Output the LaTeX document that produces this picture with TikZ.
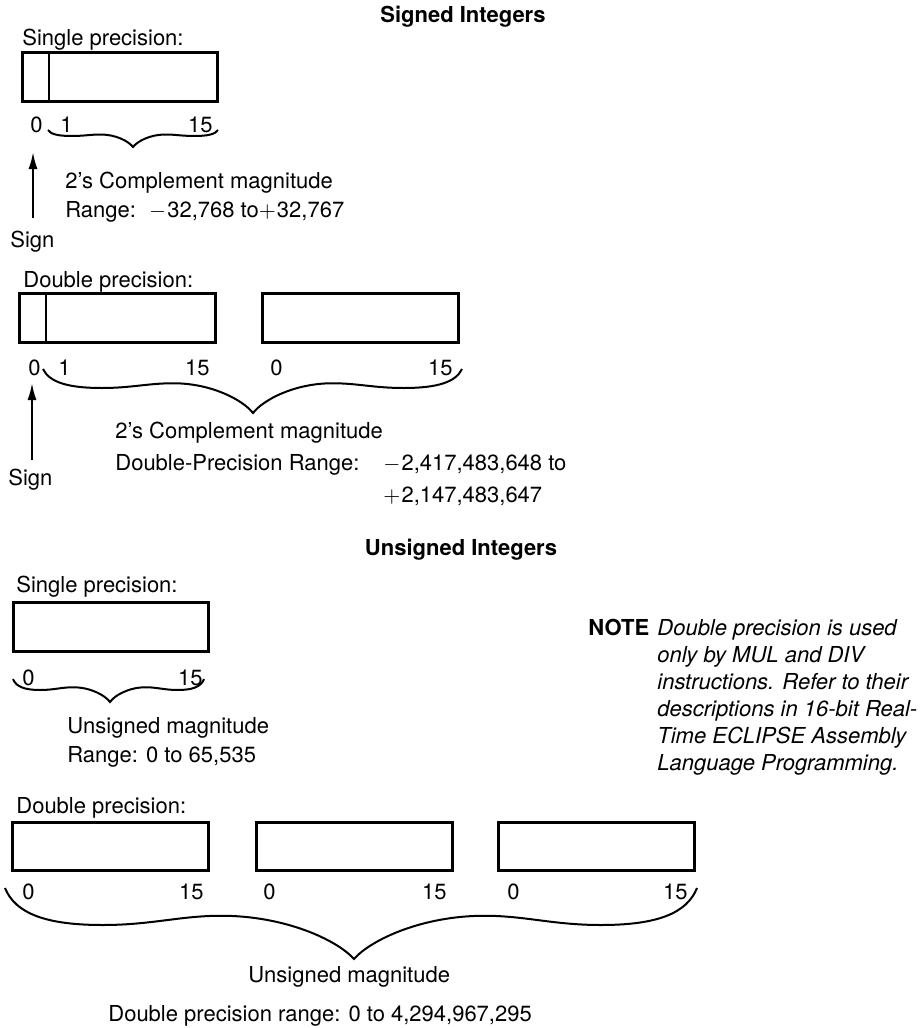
\documentclass[tikz,border=0pt]{standalone}
\usepackage{fontspec}
\setmainfont{TeX Gyre Heros}
\usetikzlibrary{arrows.meta}
\tikzset{
  txt/.style={inner sep=0pt, anchor=base west, font=\fontsize{11}{13.5}\selectfont},
  txtr/.style={txt, anchor=base east},
  ttl/.style={inner sep=0pt, anchor=base, font=\fontsize{11}{13.5}\selectfont\bfseries},
  regbox/.style={draw, rectangle, line width=1.5pt, inner sep=0pt, minimum height=24.5pt, minimum width=97.75pt},
  divider/.style={line width=0.8pt},
  bracestyle/.style={line width=1pt},
  sarrow/.style={line width=1pt, -{Latex[length=8.5pt,width=4.5pt]}},
}
\newcommand\mminus{\ensuremath{-}\kern0.05em}
\newcommand\mplus{\ensuremath{+}\kern0.05em}
% #1 x left, #2 x tip, #3 x right, #4 y ends, #5 y body, #6 y tip
\newcommand\ibrace[6]{%
  \pgfmathsetmacro\hl{#2-#1}%
  \pgfmathsetmacro\hr{#3-#2}%
  \pgfmathsetmacro\yc{#5-0.25*(#5-#4)}%
  \pgfmathsetmacro\yk{#4+0.7*(#5-#4)}%
  \pgfmathsetmacro\yq{#6-0.45*(#6-\yc)}%
  \draw[bracestyle] (#1,#4)
    .. controls ({#1+0.03*\hl},\yk) and ({#1+0.12*\hl},#5) .. ({#1+0.28*\hl},#5)
    .. controls ({#1+0.42*\hl},#5) and ({#1+0.5*\hl},\yc) .. ({#1+0.62*\hl},\yc)
    .. controls ({#1+0.8*\hl},\yc) and ({#2-0.05*\hl},\yq) .. (#2,#6)
    .. controls ({#2+0.05*\hr},\yq) and ({#3-0.8*\hr},\yc) .. ({#3-0.62*\hr},\yc)
    .. controls ({#3-0.5*\hr},\yc) and ({#3-0.42*\hr},#5) .. ({#3-0.28*\hr},#5)
    .. controls ({#3-0.12*\hr},#5) and ({#3-0.03*\hr},\yk) .. (#3,#4);
}
\begin{document}
\begin{tikzpicture}[x=0.5pt,y=-0.5pt]
\useasboundingbox (0,0) rectangle (921,1028);

% ---------- Signed integers ----------
\node[ttl] (tsigned) at (463,23) {Signed Integers};

% single precision
\node[txt] (ssp) at (22,45) {Single precision:};
\node[regbox] (s1) at (120,76.5) {};
\draw[divider] ([xshift=14pt]s1.north west) -- ([xshift=14pt]s1.south west);
\node[txt] (s1n0) at (30,132) {0};
\node[txt] (s1n1) at (60,132) {1};
\node[txtr] (s1n15) at (213,132) {15};
\ibrace{48}{133}{218}{130}{136}{147}
\coordinate (a1s) at (33,218);
\coordinate (a1e) at (33,152);
\draw[sarrow] (a1s) -- (a1e);
\node[txt] (s1c) at (65,188) {2’s Complement magnitude};
\node[txt] (s1r) at (65,217) {Range:\hspace{0.6em}\mminus 32,768 to\mplus 32,767};
\node[txt] (sign1) at (10,247) {Sign};

% double precision
\node[txt] (sdp) at (23,287) {Double precision:};
\node[regbox] (d1a) at (117.5,317.5) {};
\node[regbox] (d1b) at (360.5,317.5) {};
\draw[divider] ([xshift=14pt]d1a.north west) -- ([xshift=14pt]d1a.south west);
\node[txt] (d1n0) at (28,375) {0};
\node[txt] (d1n1) at (58,375) {1};
\node[txtr] (d1n15) at (210,375) {15};
\node[txt] (d1n0b) at (270,375) {0};
\node[txtr] (d1n15b) at (453,375) {15};
\ibrace{43}{253}{462}{369}{388}{413}
\coordinate (a2s) at (32,460);
\coordinate (a2e) at (32,383);
\draw[sarrow] (a2s) -- (a2e);
\node[txt] (d1c) at (115,438) {2’s Complement magnitude};
\node[txt] (d1r) at (115,470) {Double-Precision Range:};
\node[txt] (d1lo) at (383,470) {\mminus 2,417,483,648 to};
\node[txt] (d1hi) at (383,502) {\mplus 2,147,483,647};
\node[txt] (sign2) at (8,485) {Sign};

% ---------- Unsigned integers ----------
\node[ttl] (tunsigned) at (461,555) {Unsigned Integers};

% single precision
\node[txt] (usp) at (16,592) {Single precision:};
\node[regbox] (u1) at (111,626.5) {};
\node[txt] (u1n0) at (22,685) {0};
\node[txtr] (u1n15) at (203,685) {15};
\ibrace{13}{110}{204}{679}{690}{702}
\node[txt] (u1m) at (67,733) {Unsigned magnitude};
\node[txt] (u1r) at (67,762) {Range: 0 to 65,535};

% note
\node[txt, font=\fontsize{11}{13.5}\selectfont\bfseries] (note) at (588,635) {NOTE};
\node[txt, font=\fontsize{11}{13.5}\selectfont\itshape] (notetext) at (657,635)
  {\begin{tabular}[t]{@{}l@{}}Double precision is used\\ only by MUL and DIV\\ instructions. Refer to their\\ descriptions in 16-bit Real-\\ Time ECLIPSE Assembly\\ Language Programming.\end{tabular}};

% double precision
\node[txt] (udp) at (16,813) {Double precision:};
\node[regbox, minimum height=24pt] (u2a) at (110.5,846) {};
\node[regbox, minimum height=24pt] (u2b) at (354.5,846) {};
\node[regbox, minimum height=24pt] (u2c) at (596.5,846) {};
\node[txt] (u2n0a) at (22,899) {0};
\node[txtr] (u2n15a) at (204,899) {15};
\node[txt] (u2n0b) at (263,899) {0};
\node[txtr] (u2n15b) at (447,899) {15};
\node[txt] (u2n0c) at (507,899) {0};
\node[txtr] (u2n15c) at (688,899) {15};
\ibrace{5}{354}{697}{888}{925}{959}
\node[txt] (u2m) at (248,982) {Unsigned magnitude};
\node[txt] (u2r) at (108,1021) {Double precision range: 0 to 4,294,967,295};
\end{tikzpicture}
\end{document}
